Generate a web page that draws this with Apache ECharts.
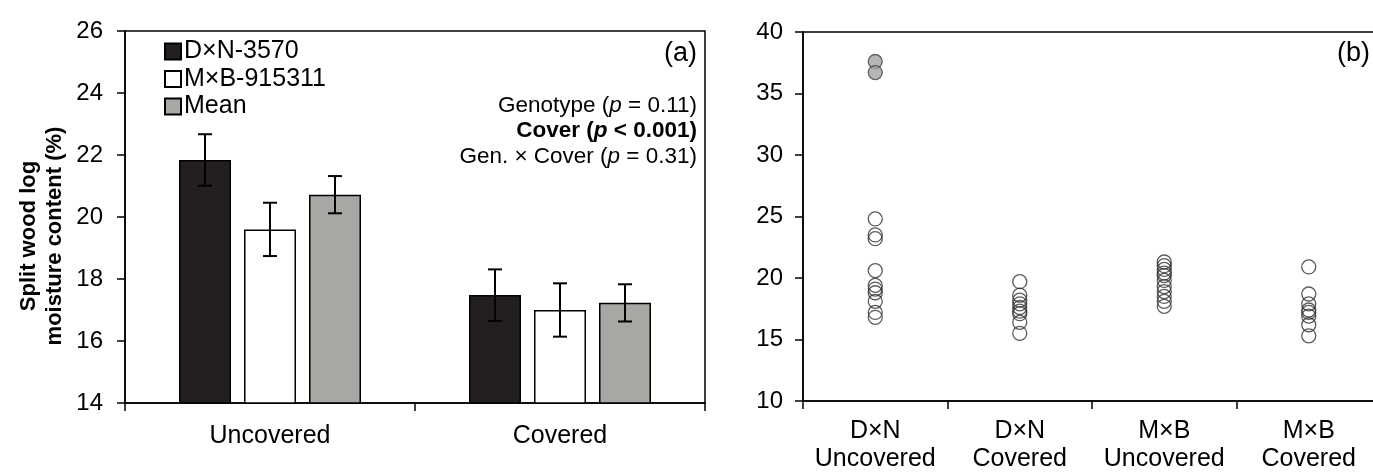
<!DOCTYPE html>
<html>
<head>
<meta charset="utf-8">
<script src="https://cdn.jsdelivr.net/npm/echarts@6/dist/echarts.min.js"></script>
<style>
  html, body { margin: 0; padding: 0; background: #fff; overflow: hidden; }
  #chart { width: 1390px; height: 473px; }
</style>
</head>
<body>
<div id="chart"></div>
<script>
// panel (a): bar means with standard errors
const coverCats = ['Uncovered', 'Covered'];
const dxnMean = [21.84, 17.48];
const dxnErr = [0.83, 0.83];
const mxbMean = [19.6, 17.0];
const mxbErr = [0.86, 0.86];
const allMean = [20.72, 17.23];
const allErr = [0.6, 0.6];

// panel (b): individual log values
const groupCats = ['D×N\nUncovered', 'D×N\nCovered', 'M×B\nUncovered', 'M×B\nCovered'];
const dxnUncovered = [24.8, 23.5, 23.2, 20.6, 19.4, 19.1, 18.8, 18.1, 17.2, 16.8];
const dxnUncoveredOutliers = [37.6, 36.7];
const dxnCovered = [19.7, 18.6, 18.2, 17.9, 17.6, 17.3, 17.1, 16.4, 15.5];
const mxbUncovered = [21.3, 21.0, 20.7, 20.4, 20.2, 19.8, 19.3, 18.9, 18.5, 18.1, 17.7];
const mxbCovered = [20.9, 18.7, 17.9, 17.4, 17.2, 16.9, 16.2, 15.3];

const FONT = 'Liberation Sans';
const BAR_W = 52;
const BAR_STEP = 65; // bar width + gap

function toPoints(cat, vals) {
  return vals.map(v => [cat, v]);
}

function errData(mean, err) {
  return mean.map((m, i) => [i, m - err[i], m + err[i]]);
}

function errSeries(mean, err, slot) {
  return {
    type: 'custom',
    xAxisIndex: 0,
    yAxisIndex: 0,
    z: 5,
    data: errData(mean, err),
    renderItem: function (params, api) {
      const lo = api.coord([api.value(0), api.value(1)]);
      const hi = api.coord([api.value(0), api.value(2)]);
      const x = lo[0] + slot * BAR_STEP;
      const cap = 7;
      const st = { stroke: '#000', lineWidth: 2 };
      return {
        type: 'group',
        children: [
          { type: 'line', shape: { x1: x, y1: lo[1], x2: x, y2: hi[1] }, style: st },
          { type: 'line', shape: { x1: x - cap, y1: lo[1], x2: x + cap, y2: lo[1] }, style: st },
          { type: 'line', shape: { x1: x - cap, y1: hi[1], x2: x + cap, y2: hi[1] }, style: st }
        ]
      };
    }
  };
}

const openCircle = { color: 'rgba(255,255,255,0)', borderColor: '#333', borderWidth: 1.3 };
const ANN = 22.5;

const chart = echarts.init(document.getElementById('chart'));

chart.setOption({
  backgroundColor: '#fff',
  animation: false,
  textStyle: { fontFamily: FONT, color: '#000' },
  title: [
    {
      text: '(a)', left: 697, top: 40, padding: 0, textAlign: 'right',
      textStyle: { fontFamily: FONT, fontSize: 27, fontWeight: 'normal', color: '#000' }
    },
    {
      text: '{n|Genotype (}{i|p}{n| = 0.11)}\n{b|Cover (}{bi|p}{b| < 0.001)}\n{n|Gen. × Cover (}{i|p}{n| = 0.31)}',
      left: 697, top: 93, padding: 0, textAlign: 'right',
      textStyle: {
        fontFamily: FONT, fontSize: ANN, fontWeight: 'normal', color: '#000', lineHeight: 25.5,
        rich: {
          n: { fontFamily: FONT, fontSize: ANN, color: '#000', lineHeight: 25.5 },
          i: { fontFamily: FONT, fontSize: ANN, fontStyle: 'italic', color: '#000', lineHeight: 25.5 },
          b: { fontFamily: FONT, fontSize: ANN, fontWeight: 'bold', color: '#000', lineHeight: 25.5 },
          bi: { fontFamily: FONT, fontSize: ANN, fontWeight: 'bold', fontStyle: 'italic', color: '#000', lineHeight: 25.5 }
        }
      }
    },
    {
      text: '(b)', left: 1370, top: 40, padding: 0, textAlign: 'right',
      textStyle: { fontFamily: FONT, fontSize: 27, fontWeight: 'normal', color: '#000' }
    }
  ],
  legend: {
    data: ['D×N-3570', 'M×B-915311', 'Mean'],
    orient: 'vertical',
    left: 164, top: 39, padding: 0,
    itemWidth: 16, itemHeight: 16, itemGap: 2.5,
    icon: 'rect',
    textStyle: { fontFamily: FONT, fontSize: 25, color: '#000', lineHeight: 25, padding: [0, 0, 0, -2] }
  },
  graphic: [
    {
      type: 'text',
      x: 42, y: 236,
      rotation: Math.PI / 2,
      style: {
        text: 'Split wood log\nmoisture content (%)',
        font: 'bold 22px "Liberation Sans"',
        fill: '#000',
        align: 'center',
        verticalAlign: 'middle',
        lineHeight: 26
      }
    }
  ],
  grid: [
    { left: 125, top: 31, width: 580, height: 372, show: true, borderColor: '#000', borderWidth: 1.5, backgroundColor: 'transparent' },
    { left: 803, top: 32, width: 578, height: 371, show: true, borderColor: '#000', borderWidth: 1.5, backgroundColor: 'transparent' }
  ],
  xAxis: [
    {
      type: 'category', gridIndex: 0, data: coverCats,
      axisLine: { lineStyle: { color: '#000', width: 1.5 } },
      axisTick: { show: true, length: 8, lineStyle: { color: '#000', width: 1.5 } },
      axisLabel: { fontFamily: FONT, fontSize: 25, color: '#000', margin: 21 },
      splitLine: { show: false }
    },
    {
      type: 'category', gridIndex: 1, data: groupCats,
      axisLine: { lineStyle: { color: '#000', width: 1.5 } },
      axisTick: { show: true, interval: 0, length: 8, lineStyle: { color: '#000', width: 1.5 } },
      axisLabel: { interval: 0, hideOverlap: false, fontFamily: FONT, fontSize: 25, color: '#000', margin: 16, lineHeight: 28 },
      splitLine: { show: false }
    }
  ],
  yAxis: [
    {
      type: 'value', gridIndex: 0, min: 14, max: 26, interval: 2,
      axisLine: { show: true, lineStyle: { color: '#000', width: 1.5 } },
      axisTick: { show: true, length: 8, lineStyle: { color: '#000', width: 1.5 } },
      axisLabel: { fontFamily: FONT, fontSize: 24, color: '#000', margin: 22 },
      splitLine: { show: false }
    },
    {
      type: 'value', gridIndex: 1, min: 10, max: 40, interval: 5,
      axisLine: { show: true, lineStyle: { color: '#000', width: 1.5 } },
      axisTick: { show: true, length: 8, lineStyle: { color: '#000', width: 1.5 } },
      axisLabel: { fontFamily: FONT, fontSize: 24, color: '#000', margin: 20 },
      splitLine: { show: false }
    }
  ],
  series: [
    {
      name: 'D×N-3570', type: 'bar', xAxisIndex: 0, yAxisIndex: 0,
      barWidth: BAR_W, barGap: '25%', data: dxnMean,
      itemStyle: { color: '#231f20', borderColor: '#000', borderWidth: 1.5 }
    },
    {
      name: 'M×B-915311', type: 'bar', xAxisIndex: 0, yAxisIndex: 0,
      barWidth: BAR_W, barGap: '25%', data: mxbMean,
      itemStyle: { color: '#ffffff', borderColor: '#000', borderWidth: 1.5 }
    },
    {
      name: 'Mean', type: 'bar', xAxisIndex: 0, yAxisIndex: 0,
      barWidth: BAR_W, barGap: '25%', data: allMean,
      itemStyle: { color: '#a7a8a3', borderColor: '#000', borderWidth: 1.5 }
    },
    errSeries(dxnMean, dxnErr, -1),
    errSeries(mxbMean, mxbErr, 0),
    errSeries(allMean, allErr, 1),
    {
      type: 'scatter', xAxisIndex: 1, yAxisIndex: 1, symbol: 'circle', symbolSize: 14,
      data: toPoints(0, dxnUncovered), itemStyle: openCircle
    },
    {
      type: 'scatter', xAxisIndex: 1, yAxisIndex: 1, symbol: 'circle', symbolSize: 14,
      data: toPoints(0, dxnUncoveredOutliers),
      itemStyle: { color: '#a3a3a3', borderColor: '#444', borderWidth: 1.3 }
    },
    {
      type: 'scatter', xAxisIndex: 1, yAxisIndex: 1, symbol: 'circle', symbolSize: 14,
      data: toPoints(1, dxnCovered), itemStyle: openCircle
    },
    {
      type: 'scatter', xAxisIndex: 1, yAxisIndex: 1, symbol: 'circle', symbolSize: 14,
      data: toPoints(2, mxbUncovered), itemStyle: openCircle
    },
    {
      type: 'scatter', xAxisIndex: 1, yAxisIndex: 1, symbol: 'circle', symbolSize: 14,
      data: toPoints(3, mxbCovered), itemStyle: openCircle
    }
  ]
});
</script>
</body>
</html>
